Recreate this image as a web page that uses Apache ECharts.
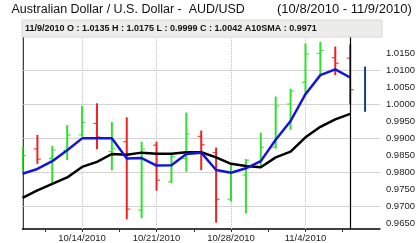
<!DOCTYPE html>
<html><head><meta charset="utf-8">
<script src="https://cdn.jsdelivr.net/npm/echarts@6/dist/echarts.min.js"></script>
<style>html,body{margin:0;padding:0;background:#fff}#c{width:418px;height:243px}</style>
</head><body><div id="c"></div>
<script>
const dates = ['10/8/2010','10/11/2010','10/12/2010','10/13/2010','10/14/2010','10/15/2010',
  '10/18/2010','10/19/2010','10/20/2010','10/21/2010','10/22/2010',
  '10/25/2010','10/26/2010','10/27/2010','10/28/2010','10/29/2010',
  '11/1/2010','11/2/2010','11/3/2010','11/4/2010','11/5/2010','11/8/2010','11/9/2010'];
const opens  = [0.9820,0.9868,0.9840,0.9863,0.9909,0.9943,0.9860,0.9889,0.9688,0.9879,0.9771,0.9840,0.9905,0.9857,0.9720,0.9791,0.9830,0.9873,1.0000,1.0064,1.0149,1.0136,1.0135];
const highs  = [0.9874,0.9909,0.9877,0.9938,0.9995,1.0002,0.9947,0.9961,0.9889,0.9889,0.9850,0.9975,0.9922,0.9872,0.9821,0.9838,0.9916,1.0022,1.0045,1.0178,1.0183,1.0169,1.0175];
const lows   = [0.9800,0.9824,0.9767,0.9835,0.9904,0.9867,0.9805,0.9661,0.9664,0.9745,0.9767,0.9801,0.9806,0.9651,0.9713,0.9678,0.9818,0.9869,0.9924,1.0031,1.0088,1.0085,0.9999];
const closes = [0.9848,0.9838,0.9865,0.9909,0.9945,0.9903,0.9870,0.9691,0.9867,0.9776,0.9845,0.9912,0.9880,0.9720,0.9800,0.9835,0.9873,0.9994,1.0038,1.0147,1.0157,1.0120,1.0042];
const smaShort = [0.9795,0.9809,0.9832,0.9864,0.9899,0.9899,0.9899,0.9840,0.9841,0.9819,0.9820,0.9853,0.9857,0.9806,0.9798,0.9811,0.9832,0.9895,0.9950,1.0029,1.0085,1.0102,1.0078];
const sma10 = [0.9724,0.9746,0.9765,0.9784,0.9815,0.9830,0.9853,0.9851,0.9857,0.9854,0.9854,0.9858,0.9858,0.9843,0.9824,0.9818,0.9814,0.9843,0.9860,0.9902,0.9933,0.9955,0.9971];
const projection = [[23, 0.9977, 1.0110]];
const yTicks = [0.9650,0.9700,0.9750,0.9800,0.9850,0.9900,0.9950,1.0000,1.0050,1.0100,1.0150];
const xLabelIdx = [4, 9, 14, 19];
const xTickIdx = [1.5, 4, 6.5, 9, 11.5, 14, 16.5, 19, 21.5];
const cursorIdx = 22;

const GREEN = '#2fe02f', RED = '#ee2222';
const FONT = 'Liberation Sans';
const last = dates.length - 1;
const info = dates[last] + ' O : ' + opens[last].toFixed(4) + ' H : ' + highs[last].toFixed(4) +
  ' L : ' + lows[last].toFixed(4) + ' C : ' + closes[last].toFixed(4) + ' A10SMA : ' + sma10[last].toFixed(4);

const chart = echarts.init(document.getElementById('c'), null, {renderer: 'canvas'});
chart.setOption({
  animation: false,
  backgroundColor: '#fff',
  grid: {left: 22.5, right: 36.5, top: 37, bottom: 14, show: false},
  xAxis: {
    type: 'value', min: 0, max: 24,
    axisLine: {show: true, lineStyle: {color: '#000', width: 1.5}},
    axisTick: {show: true, customValues: xTickIdx, length: 3, lineStyle: {color: '#333'}},
    axisLabel: {customValues: xLabelIdx, formatter: v => dates[Math.round(v)] || '', fontSize: 9.5, fontFamily: FONT, color: '#222', margin: 4},
    splitLine: {show: false}
  },
  yAxis: [{
    type: 'value', position: 'right', min: 0.96324, max: 1.01971,
    axisLine: {show: true, lineStyle: {color: '#000', width: 1.5}},
    axisTick: {show: false},
    axisLabel: {customValues: yTicks, formatter: v => v.toFixed(4), fontSize: 9.5, fontFamily: FONT, color: '#222', margin: 6},
    splitLine: {show: false}
  }, {
    type: 'value', position: 'left', min: 0.96324, max: 1.01971,
    axisLine: {show: true, onZero: false, lineStyle: {color: '#c8c8c8', width: 1}},
    axisTick: {show: false}, axisLabel: {show: false}, splitLine: {show: false}
  }],
  graphic: [
    {type: 'text', left: 11.5, top: 3, style: {text: 'Australian Dollar / U.S. Dollar -  AUD/USD', font: '12.5px "Liberation Sans"', fill: '#111'}},
    {type: 'text', left: 277, top: 3, style: {text: '(' + dates[0] + ' - ' + dates[last] + ')', font: '13px "Liberation Sans"', fill: '#111'}},
    {type: 'rect', shape: {x: 22, y: 20, width: 360, height: 17}, style: {fill: '#ececea', stroke: '#d8d8d8', lineWidth: 1}, z: 10},
    {type: 'text', x: 25, y: 28.5, style: {text: info, font: 'bold 9px "Liberation Sans"', fill: '#111', verticalAlign: 'middle'}, z: 11}
  ],
  series: [
    {
      type: 'line', data: [], silent: true, z: 1,
      markLine: {
        z: 1,
        silent: true, symbol: 'none', label: {show: false},
        lineStyle: {color: '#c4c4c4', type: 'dotted', width: 1},
        data: yTicks.map(v => ({yAxis: v})).concat(xLabelIdx.map(v => ({xAxis: v})))
      }
    },
    {
      type: 'custom', z: 3, clip: true,
      data: dates.map((d, i) => [i, opens[i], highs[i], lows[i], closes[i]]),
      encode: {x: 0, y: [1, 2, 3, 4]},
      renderItem: (params, api) => {
        const i = api.value(0);
        const o = api.coord([i, api.value(1)]);
        const h = api.coord([i, api.value(2)]);
        const l = api.coord([i, api.value(3)]);
        const c = api.coord([i, api.value(4)]);
        const col = api.value(4) >= api.value(1) ? GREEN : RED;
        const x = h[0];
        return {type: 'group', children: [
          {type: 'line', shape: {x1: x, y1: h[1], x2: x, y2: l[1]}, style: {stroke: col, lineWidth: 2}},
          {type: 'line', shape: {x1: x - 3.5, y1: o[1], x2: x, y2: o[1]}, style: {stroke: col, lineWidth: 1}},
          {type: 'line', shape: {x1: x, y1: c[1], x2: x + 3.5, y2: c[1]}, style: {stroke: col, lineWidth: 1}}
        ]};
      }
    },
    {
      type: 'custom', z: 3,
      data: projection,
      encode: {x: 0, y: [1, 2]},
      renderItem: (params, api) => {
        const a = api.coord([api.value(0), api.value(1)]);
        const b = api.coord([api.value(0), api.value(2)]);
        return {type: 'line', shape: {x1: a[0], y1: a[1], x2: b[0], y2: b[1]}, style: {stroke: '#1c3a8c', lineWidth: 2}};
      }
    },
    {
      type: 'line', z: 5, symbol: 'none', smooth: false,
      data: sma10.map((v, i) => [i, v]),
      lineStyle: {color: '#000', width: 2.5}
    },
    {
      type: 'line', z: 6, symbol: 'none', smooth: false,
      data: smaShort.map((v, i) => [i, v]),
      lineStyle: {color: '#1414dc', width: 2.5},
      markLine: {
        z: 7,
        silent: true, symbol: 'none', label: {show: false},
        lineStyle: {color: '#000', type: 'solid', width: 1.2},
        data: [{xAxis: cursorIdx}]
      }
    }
  ]
});
</script>
</body></html>
